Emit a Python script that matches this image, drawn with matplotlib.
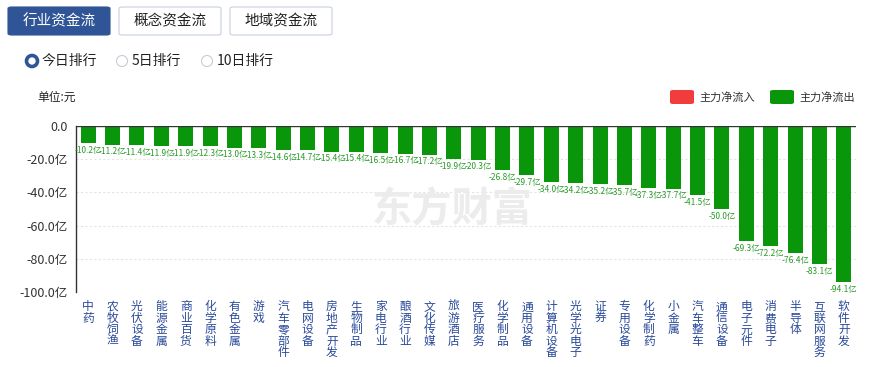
# -*- coding: utf-8 -*-
import matplotlib
matplotlib.use("Agg")
from matplotlib import pyplot as plt
from matplotlib.patches import FancyBboxPatch, Ellipse

plt.rcParams['font.family'] = ['Noto Sans CJK SC', 'DejaVu Sans']

# 行业名称与主力净流出(亿元)
hangye = ["中药", "农牧饲渔", "光伏设备", "能源金属", "商业百货", "化学原料",
          "有色金属", "游戏", "汽车零部件", "电网设备", "房地产开发", "生物制品",
          "家电行业", "酿酒行业", "文化传媒", "旅游酒店", "医疗服务", "化学制品",
          "通用设备", "计算机设备", "光学光电子", "证券", "专用设备", "化学制药",
          "小金属", "汽车整车", "通信设备", "电子元件", "消费电子", "半导体",
          "互联网服务", "软件开发"]
liuchu = [-10.2, -11.2, -11.4, -11.9, -11.9, -12.3, -13.0, -13.3, -14.6, -14.7,
          -15.4, -15.4, -16.5, -16.7, -17.2, -19.9, -20.3, -26.8, -29.7, -34.0,
          -34.2, -35.2, -35.7, -37.3, -37.7, -41.5, -50.0, -69.3, -72.2, -76.4,
          -83.1, -94.1]
y_ticks = [0, -20, -40, -60, -80, -100]
botones = ["行业资金流", "概念资金流", "地域资金流"]
radios = ["今日排行", "5日排行", "10日排行"]

W, H = 869, 367
verde = "#0a960a"
azul = "#2f5597"

fig = plt.figure(figsize=(W / 100, H / 100), dpi=100)

def fx(px):
    return px / W

def fy(py):
    return 1 - py / H

# botones de arriba
for i, b in enumerate(botones):
    x0 = 8 + i * 111
    activo = i == 0
    caja = FancyBboxPatch((fx(x0), fy(35)), fx(102), 28 / H,
                          boxstyle="round,pad=0,rounding_size=0.004",
                          transform=fig.transFigure,
                          facecolor=azul if activo else "white",
                          edgecolor=azul if activo else "#c8d0dc", lw=0.8)
    fig.patches.append(caja)
    fig.text(fx(x0 + 51), fy(21), b, ha="center", va="center", fontsize=10.5,
             color="white" if activo else "#222222")

# radios
rx = [32, 122, 207]
for i, r in enumerate(radios):
    c = Ellipse((fx(rx[i]), fy(61)), 11 / W, 11 / H, transform=fig.transFigure,
                facecolor="white", edgecolor=azul if i == 0 else "#c8ccd4",
                lw=2.6 if i == 0 else 0.8)
    fig.patches.append(c)
    fig.text(fx(rx[i] + 10), fy(61), r, ha="left", va="center", fontsize=10,
             color="#222222")

fig.text(fx(37), fy(97), "单位:元", ha="left", va="center", fontsize=8.5,
         color="#222222")

# leyenda
for i, (txt, col) in enumerate([("主力净流入", "#f03c3c"), ("主力净流出", verde)]):
    x0 = 670 + i * 100
    caja = FancyBboxPatch((fx(x0), fy(104)), fx(24), 14 / H,
                          boxstyle="round,pad=0,rounding_size=0.004",
                          transform=fig.transFigure, facecolor=col, lw=0)
    fig.patches.append(caja)
    fig.text(fx(x0 + 29), fy(97), txt, ha="left", va="center", fontsize=8,
             color="#333333")

# marca de agua
fig.text(fx(452), fy(210), "东方财富", ha="center", va="center", fontsize=29,
         fontweight="bold", color="#ececec", zorder=0)

ax = fig.add_axes([fx(76), fy(292), fx(856 - 76), (292 - 126) / H])
ax.patch.set_alpha(0)
x = list(range(len(hangye)))
ax.bar(x, liuchu, width=0.62, color=verde, zorder=3)
for i, v in enumerate(liuchu):
    ax.annotate("%.1f亿" % v, (i, v), xytext=(0, -2), textcoords="offset points",
                ha="center", va="top", fontsize=6, color="#2a9a2a", zorder=4)

ax.set_xlim(-0.5, len(hangye) - 0.5)
ax.set_ylim(-100, 0)
ax.set_yticks(y_ticks)
ax.set_yticklabels(["0.0"] + ["%.1f亿" % t for t in y_ticks[1:]])
ax.set_xticks(x)
ax.set_xticklabels(["\n".join(h) for h in hangye], va="top", linespacing=0.85)
ax.tick_params(axis="x", length=0, labelsize=8.5, labelcolor="#2a4a9a", pad=6)
ax.tick_params(axis="y", length=0, labelsize=9, labelcolor="#333333", pad=6)
for t in y_ticks[1:]:
    ax.axhline(t, color="#e4e4e4", lw=0.8, ls=(0, (2, 2)), zorder=1)
ax.axhline(0, color="#333333", lw=1, zorder=5)
for s in ["top", "right", "bottom"]:
    ax.spines[s].set_visible(False)
ax.spines["left"].set_color("#333333")
ax.spines["left"].set_linewidth(1)

fig.savefig("out.png", dpi=100)
